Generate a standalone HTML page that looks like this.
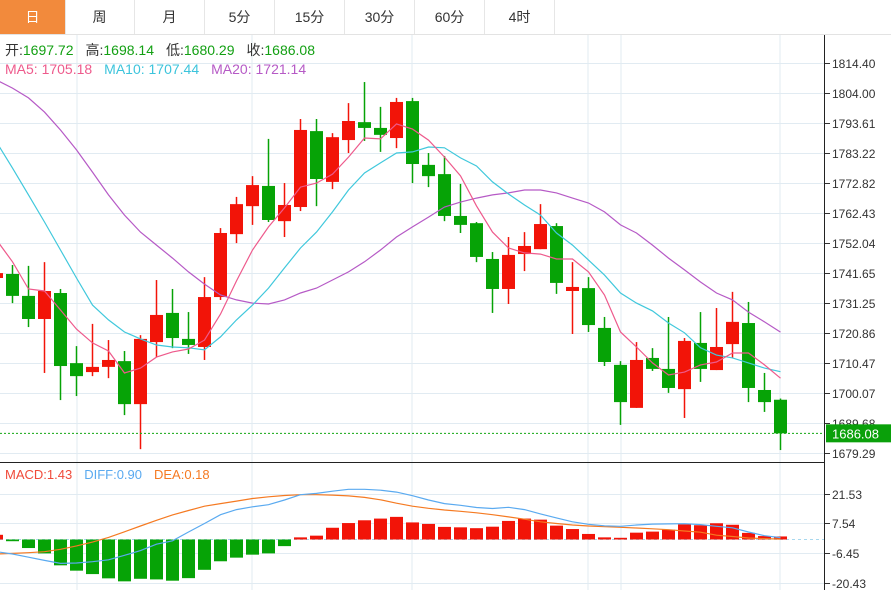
<!DOCTYPE html>
<html><head><meta charset="utf-8">
<style>
body{margin:0;background:#fff;width:891px;height:590px;overflow:hidden;font-family:"Liberation Sans","Noto Sans CJK SC",sans-serif;}
#tabs{position:absolute;left:0;top:0;width:891px;height:34px;border-bottom:1px solid #e3e3e3;background:#fff;}
.tab{position:absolute;top:0;height:34px;width:69px;border-right:1px solid #e6e6e6;text-align:center;line-height:34px;font-size:14px;color:#333;}
.tab.on{background:#f28a3c;color:#fff;}
svg{position:absolute;left:0;top:0;}
</style></head><body>
<div id="tabs">
<div class="tab on" style="left:0;width:65px">日</div>
<div class="tab" style="left:65px">周</div>
<div class="tab" style="left:135px">月</div>
<div class="tab" style="left:205px">5分</div>
<div class="tab" style="left:275px">15分</div>
<div class="tab" style="left:345px">30分</div>
<div class="tab" style="left:415px">60分</div>
<div class="tab" style="left:485px">4时</div>
</div>
<svg id="chart" width="891" height="590"></svg>
<script>
const opens=[1739.9,1741.3,1733.7,1725.7,1734.7,1710.4,1707.3,1709.1,1711.1,1696.2,1717.7,1727.8,1718.8,1716.0,1733.3,1755.1,1764.8,1771.8,1759.6,1764.5,1790.8,1773.2,1787.7,1793.9,1791.9,1788.4,1801.2,1779.1,1775.9,1761.4,1758.9,1746.5,1736.1,1748.2,1749.9,1757.9,1735.4,1736.4,1722.6,1709.8,1694.9,1712.2,1708.4,1701.4,1717.4,1708.0,1717.0,1724.3,1701.1,1697.72];
const closes=[1741.6,1733.7,1725.7,1735.4,1709.4,1705.9,1709.1,1711.5,1696.2,1718.8,1727.1,1719.1,1716.7,1733.3,1755.5,1765.5,1772.1,1760.0,1765.2,1791.2,1774.2,1788.7,1794.3,1791.9,1789.5,1800.9,1779.4,1775.2,1761.4,1758.3,1747.2,1736.1,1747.9,1751.0,1758.6,1738.2,1736.8,1723.6,1710.8,1696.9,1711.5,1708.4,1701.8,1718.1,1708.4,1716.0,1724.7,1701.8,1696.9,1686.08];
const highs=[1742.3,1744.4,1744.1,1745.4,1736.1,1716.3,1724.0,1718.4,1714.6,1720.1,1739.2,1736.1,1728.1,1740.2,1757.2,1768.0,1775.2,1788.1,1772.8,1795.0,1795.0,1790.1,1800.5,1807.8,1799.2,1802.3,1802.3,1783.2,1782.2,1772.5,1759.3,1748.9,1754.1,1755.8,1765.5,1758.9,1745.4,1740.2,1726.4,1711.1,1717.7,1715.6,1726.4,1719.1,1728.1,1729.5,1735.1,1731.6,1707.0,1698.14];
const lows=[1739.6,1731.2,1722.9,1707.0,1697.6,1699.0,1705.9,1705.2,1692.4,1680.6,1712.5,1715.6,1713.6,1711.5,1732.3,1752.0,1758.3,1759.3,1754.1,1763.1,1764.8,1770.7,1783.2,1787.4,1783.6,1784.9,1772.8,1771.4,1759.6,1755.5,1745.4,1727.8,1730.9,1742.3,1749.9,1734.4,1720.5,1721.2,1709.4,1689.0,1694.9,1707.7,1700.1,1691.4,1703.9,1708.0,1712.2,1696.9,1693.5,1680.29];
const ma5=[1753.1,1745.5,1736.1,1735.4,1728.8,1722.2,1717.4,1714.6,1707.0,1708.7,1712.5,1714.3,1715.3,1718.4,1727.4,1738.9,1749.6,1757.6,1764.2,1771.4,1772.8,1775.9,1781.8,1788.4,1788.1,1793.3,1791.5,1787.7,1781.8,1775.3,1764.9,1755.8,1750.3,1748.6,1748.2,1746.5,1746.5,1742.0,1734.0,1721.2,1716.0,1710.5,1706.3,1707.3,1709.8,1710.8,1713.9,1713.9,1709.8,1705.18];
const ma10=[1787.0,1778.0,1768.7,1759.3,1749.6,1739.9,1730.5,1725.4,1721.2,1718.8,1716.7,1716.0,1715.7,1715.0,1719.5,1725.4,1730.5,1736.4,1743.4,1750.3,1755.8,1762.8,1770.4,1776.3,1779.8,1783.2,1783.6,1785.3,1785.0,1781.5,1778.7,1773.2,1769.0,1765.2,1761.7,1755.5,1751.3,1746.1,1740.9,1734.7,1731.2,1728.5,1724.3,1720.9,1715.7,1713.2,1712.2,1710.5,1708.7,1707.44];
const ma20=[1808.5,1805.7,1802.3,1797.4,1791.2,1784.3,1776.6,1768.7,1761.7,1755.8,1751.3,1746.8,1742.0,1737.8,1734.0,1732.3,1731.2,1730.9,1732.3,1734.7,1736.4,1739.2,1742.0,1745.5,1749.6,1754.1,1757.6,1761.0,1764.5,1766.2,1767.6,1768.7,1769.4,1770.4,1770.4,1769.4,1767.6,1765.9,1762.8,1758.3,1755.5,1751.3,1746.8,1742.7,1738.5,1734.7,1732.3,1728.1,1724.7,1721.14];
const macdHist=[2.2,-0.8,-4.0,-6.5,-12.1,-14.6,-16.2,-18.2,-19.6,-18.4,-18.7,-19.3,-18.1,-14.2,-10.2,-8.5,-7.1,-6.5,-3.1,1.0,1.8,5.5,7.7,9.0,9.8,10.6,8.0,7.3,5.9,5.7,5.3,6.0,8.7,9.8,9.3,6.5,4.9,2.6,1.0,0.8,3.2,3.7,4.6,7.1,6.7,7.6,6.9,3.1,1.6,1.43];
const diffLine=[-5.7,-6.8,-8.3,-9.8,-11.2,-11.0,-10.4,-9.5,-7.4,-5.2,-2.2,-0.6,3.5,7.5,11.6,14.0,15.3,16.3,18.5,21.0,21.6,22.6,23.5,23.5,23.1,22.2,20.5,18.5,16.8,16.0,15.0,14.5,15.1,14.0,12.0,10.1,8.3,7.1,6.4,6.2,6.8,7.2,7.3,7.4,7.0,6.2,5.5,3.5,1.8,0.9];
const deaLine=[-6.8,-6.5,-6.2,-5.7,-4.6,-3.0,-1.2,1.0,3.6,6.3,9.0,11.5,13.6,15.6,16.8,18.0,19.2,20.0,20.6,21.0,21.0,20.8,20.4,19.7,18.6,17.0,15.6,14.6,13.8,13.2,12.5,11.6,10.6,9.5,8.3,7.5,6.8,6.3,6.0,5.7,5.4,5.0,4.6,4.0,3.4,2.0,1.4,0.7,0.4,0.18];
const priceTicks=[1814.40,1804.00,1793.61,1783.22,1772.82,1762.43,1752.04,1741.65,1731.25,1720.86,1710.47,1700.07,1689.68,1679.29];
const macdTicks=[21.53,7.54,-6.45,-20.43];
const lastPrice=1686.08;

const NS='http://www.w3.org/2000/svg';
const svg=document.getElementById('chart');
function py(p){return 63+(1814.40-p)*2.886;}
function my(v){return 539.5-v*2.135;}
function cx(i){return -3.5+16*i;}
function mk(tag,attrs,parent){const e=document.createElementNS(NS,tag);for(const k in attrs)e.setAttribute(k,attrs[k]);(parent||svg).appendChild(e);return e;}
const GRID='#e1ebf2';
[77,252,412,588,621,780].forEach(x=>{const l=mk('line',{x1:x,x2:x,y1:35,y2:590,stroke:GRID,'stroke-width':1});

});
priceTicks.forEach((t,i)=>{const y=Math.round(py(t))+0.5;
const l=mk('line',{x1:0,x2:825,y1:y,y2:y,stroke:GRID,'stroke-width':1});


mk('line',{x1:825,x2:830,y1:y,y2:y,stroke:'#333'});
const tx=mk('text',{x:832,y:y+4.5,'font-size':12,fill:'#333'});tx.textContent=t.toFixed(2);

});
macdTicks.forEach(t=>{const y=Math.round(my(t))+0.5;
const l=mk('line',{x1:0,x2:825,y1:y,y2:y,stroke:GRID,'stroke-width':1});


mk('line',{x1:825,x2:830,y1:y,y2:y,stroke:'#333'});
const tx=mk('text',{x:832,y:y+4.5,'font-size':12,fill:'#333'});tx.textContent=t.toFixed(2);

});
const RED='#f21408',GRN='#06a306';
opens.forEach((o,i)=>{const c=closes[i];const col=c>=o?RED:GRN;const x=cx(i);
const g=mk('g',{});


mk('line',{x1:x,x2:x,y1:py(highs[i]),y2:py(lows[i]),stroke:col,'stroke-width':1.5},g);
const top=py(Math.max(o,c)),bot=py(Math.min(o,c));
mk('rect',{x:x-6.5,y:top,width:13,height:Math.max(1.5,bot-top),fill:col},g);});
function line(arr,f,col,name){const d=arr.map((v,i)=>(i?'L':'M')+cx(i).toFixed(1)+','+f(v).toFixed(1)).join('');
const p=mk('path',{d:d,fill:'none',stroke:col,'stroke-width':1.2});

}
line(ma20,py,'#b65ac6','ma20-line');
line(ma10,py,'#40c8dc','ma10-line');
line(ma5,py,'#ee5a8c','ma5-line');
const ly=py(lastPrice);
const dl=mk('line',{x1:0,x2:825,y1:ly,y2:ly,stroke:'#13a813','stroke-dasharray':'2,2'});


const lb=mk('rect',{x:826,y:ly-9,width:65,height:18,fill:'#0aa00a'});


const lt=mk('text',{x:832,y:ly+5,'font-size':13,fill:'#fff'});lt.textContent=lastPrice.toFixed(2);
const zy=my(0);
const zl=mk('line',{x1:0,x2:825,y1:zy,y2:zy,stroke:'#a8d8ee','stroke-dasharray':'3,3'});


macdHist.forEach((v,i)=>{const x=cx(i);const y=my(v);
const r=mk('rect',{x:x-6.5,y:Math.min(y,zy),width:13,height:Math.max(1,Math.abs(y-zy)),fill:v>=0?RED:GRN});

});
line(deaLine,my,'#f57a22','dea-line');
line(diffLine,my,'#5aaaf0','diff-line');
mk('line',{x1:0,x2:825,y1:462.5,y2:462.5,stroke:'#222','stroke-width':1});
mk('line',{x1:824.5,x2:824.5,y1:35,y2:590,stroke:'#222','stroke-width':1});
function legend(y,fs,items,name){const t=mk('text',{x:5,y:y,'font-size':fs});


items.forEach(([s,col,dx])=>{const ts=mk('tspan',{fill:col},t);if(dx)ts.setAttribute('dx',dx);ts.textContent=s;});}
legend(55,14,[['开:','#333'],['1697.72','#13a013'],['高:','#333',12],['1698.14','#13a013'],['低:','#333',12],['1680.29','#13a013'],['收:','#333',12],['1686.08','#13a013']],'ohlc-legend');
legend(74,14,[['MA5: 1705.18','#ee5a8c'],['MA10: 1707.44','#3cc4dc',12],['MA20: 1721.14','#b65ac6',12]],'ma-legend');
legend(479,13,[['MACD:1.43','#f04a3a'],['DIFF:0.90','#5aaaf0',12],['DEA:0.18','#f57a22',12]],'macd-legend');
</script>
</body></html>
